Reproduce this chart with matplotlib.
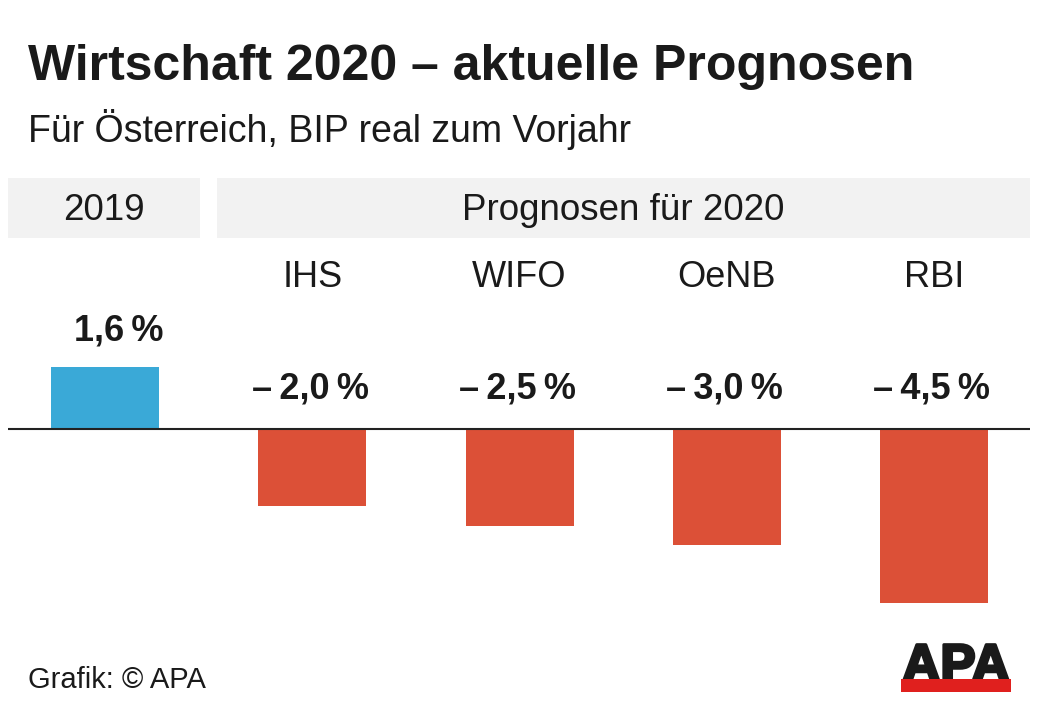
import matplotlib
matplotlib.use("Agg")
import matplotlib.pyplot as plt
from matplotlib.patches import Rectangle
from matplotlib.transforms import blended_transform_factory
import matplotlib.patheffects as pe

# ---- data ----
categories = ["2019", "IHS", "WIFO", "OeNB", "RBI"]
values = [1.6, -2.0, -2.5, -3.0, -4.5]
value_labels = ["1,6\u2009%", "\u2013\u20092,0\u2009%", "\u2013\u20092,5\u2009%",
                "\u2013\u20093,0\u2009%", "\u2013\u20094,5\u2009%"]
header_left = "2019"
header_right = "Prognosen für 2020"
title = "Wirtschaft 2020 \u2013 aktuelle Prognosen"
subtitle = "Für Österreich, BIP real zum Vorjahr"
source = "Grafik: \u00a9 APA"

BLUE = "#3aa9d7"
RED = "#dc5037"
GREY = "#f2f2f2"
TXT = "#1a1a1a"
FONT = ["Liberation Sans", "DejaVu Sans"]

W, H = 1040, 709
fig = plt.figure(figsize=(W / 100, H / 100), dpi=100)
fig.patch.set_facecolor("white")

# overlay axes in pixel coordinates
ov = fig.add_axes([0, 0, 1, 1])
ov.set_xlim(0, W)
ov.set_ylim(H, 0)
ov.axis("off")

# header boxes
ov.add_patch(Rectangle((8, 178), 192, 60, facecolor=GREY, edgecolor="none", zorder=0))
ov.add_patch(Rectangle((217, 178), 813, 60, facecolor=GREY, edgecolor="none", zorder=0))
ov.text(104, 220, header_left, ha="center", va="baseline", fontsize=26.5, color=TXT, family=FONT)
ov.text(623.5, 220, header_right, ha="center", va="baseline", fontsize=26.5, color=TXT, family=FONT)

# title / subtitle / source
ov.text(28, 80, title, ha="left", va="baseline", fontsize=36, fontweight="bold", color=TXT, family=FONT)
ov.text(28, 142, subtitle, ha="left", va="baseline", fontsize=27, color=TXT, family=FONT)
ov.text(28, 688, source, ha="left", va="baseline", fontsize=21, color=TXT, family=FONT)

# APA logo
ov.text(956, 681, "APA", ha="center", va="baseline", fontsize=38, fontweight="bold",
        color="#1a1a1a", family=FONT, zorder=3,
        path_effects=[pe.withStroke(linewidth=2.2, foreground="#1a1a1a")])
ov.add_patch(Rectangle((901, 679), 110, 13, facecolor="#e0201e", edgecolor="none", zorder=4))

# data axes
left_px, right_px, top_px, bot_px = 8, 1030, 250, 640
ax = fig.add_axes([left_px / W, (H - bot_px) / H, (right_px - left_px) / W, (bot_px - top_px) / H])
ax.set_facecolor("none")
x = list(range(len(categories)))
colors = [BLUE if v >= 0 else RED for v in values]
ax.bar(x, values, width=0.521, color=colors, zorder=2)
ax.axhline(0, color="#222222", lw=1.5, zorder=3)
ax.set_xlim(-0.468, 4.463)
ax.set_ylim(-(bot_px - 429) / 38.7, (429 - top_px) / 38.7)
ax.axis("off")

# category labels (2019 sits in the header)
tr = blended_transform_factory(ax.transData, ov.transData)
for i, c in enumerate(categories):
    if i == 0:
        continue
    ax.text(i, 287, c, transform=tr, ha="center", va="baseline", fontsize=26, color=TXT, family=FONT)

# value labels
for i, (v, lab) in enumerate(zip(values, value_labels)):
    if v >= 0:
        off = (10.0, 19.4)
    else:
        off = (-1.5, 21.6)
    ax.annotate(lab, xy=(i, max(v, 0)), xytext=off, textcoords="offset points",
                ha="center", va="baseline", fontsize=26, fontweight="bold", color=TXT, family=FONT)

fig.savefig("out.png", dpi=100)
